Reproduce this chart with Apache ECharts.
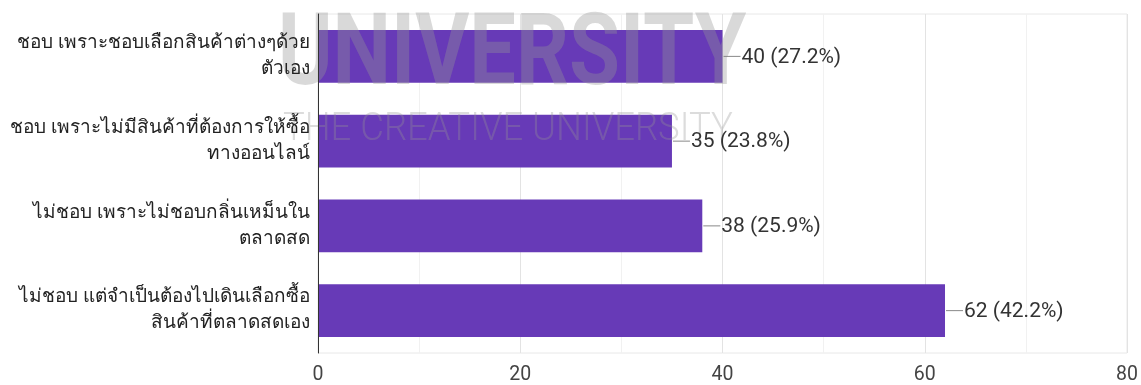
<!DOCTYPE html>
<html>
<head>
<meta charset="utf-8">
<style>
  html, body { margin: 0; padding: 0; background: #fff; }
  #chart { width: 1141px; height: 385px; }
</style>
<script src="https://cdn.jsdelivr.net/npm/echarts@6/dist/echarts.min.js"></script>
</head>
<body>
<div id="chart"></div>
<script>
// Survey answers (top to bottom) and response counts
const categories = [
  'ชอบ เพราะชอบเลือกสินค้าต่างๆด้วย\nตัวเอง',
  'ชอบ เพราะไม่มีสินค้าที่ต้องการให้ซื้อ\nทางออนไลน์',
  'ไม่ชอบ เพราะไม่ชอบกลิ่นเหม็นใน\nตลาดสด',
  'ไม่ชอบ แต่จำเป็นต้องไปเดินเลือกซื้อ\nสินค้าที่ตลาดสดเอง'
];
const counts = [40, 35, 38, 62];
const percents = ['27.2%', '23.8%', '25.9%', '42.2%'];
const xTicks = [0, 20, 40, 60, 80];

const FONT = 'Roboto, "Noto Sans", sans-serif';
const chart = echarts.init(document.getElementById('chart'));

const option = {
  animation: false,
  grid: {
    left: 318, right: 12, top: 14, bottom: 32,
    show: true, borderColor: '#e8e8e8', borderWidth: 1
  },
  xAxis: {
    type: 'value',
    min: 0, max: 80, interval: 10,
    axisLine: { show: false },
    axisTick: { show: false },
    splitLine: { lineStyle: { color: ['#e3e3e3', '#f1f1f1'], width: 1 } },
    axisLabel: {
      color: '#444', fontSize: 19.5, fontFamily: FONT, margin: 12,
      formatter: v => (xTicks.indexOf(v) >= 0 ? String(v) : '')
    }
  },
  yAxis: {
    type: 'category',
    inverse: true,
    data: categories,
    axisLine: { show: true, lineStyle: { color: '#333', width: 1 } },
    axisTick: { show: false },
    splitLine: { show: false },
    axisLabel: {
      color: '#222', fontSize: 19, fontFamily: FONT,
      lineHeight: 26, margin: 8, align: 'right'
    },
    z: 20
  },
  graphic: [
    {
      type: 'text', z: 3,
      x: 278, y: 8, scaleX: 0.82,
      style: {
        text: 'UNIVERSITY',
        font: 'bold 101px Roboto, sans-serif',
        fill: 'rgba(150,150,150,0.36)',
        textVerticalAlign: 'top', textAlign: 'left'
      }
    },
    {
      type: 'text', z: 3,
      x: 283, y: 111, scaleX: 0.96,
      style: {
        text: 'THE CREATIVE UNIVERSITY',
        font: '300 38px Roboto, sans-serif',
        fill: 'rgba(150,150,150,0.33)',
        textVerticalAlign: 'top', textAlign: 'left'
      }
    }
  ],
  series: [
    {
      type: 'bar',
      data: counts,
      barWidth: '62%',
      itemStyle: { color: '#673ab7' },
      z: 2
    },
    {
      // leader line + value label at the end of every bar
      type: 'custom',
      data: counts.map((v, i) => [v, i]),
      encode: { x: 0, y: 1 },
      z: 20,
      silent: true,
      renderItem: function (params, api) {
        const p = api.coord([api.value(0), api.value(1)]);
        const idx = params.dataIndex;
        return {
          type: 'group',
          children: [
            {
              type: 'line',
              shape: { x1: p[0] + 1, y1: p[1], x2: p[0] + 18, y2: p[1] },
              style: { stroke: '#888', lineWidth: 1 }
            },
            {
              type: 'text',
              x: p[0] + 19, y: p[1] + 1,
              style: {
                text: counts[idx] + ' (' + percents[idx] + ')',
                font: '21px ' + FONT,
                fill: '#333',
                textAlign: 'left', textVerticalAlign: 'middle'
              }
            }
          ]
        };
      }
    }
  ]
};
chart.setOption(option);
</script>
</body>
</html>
